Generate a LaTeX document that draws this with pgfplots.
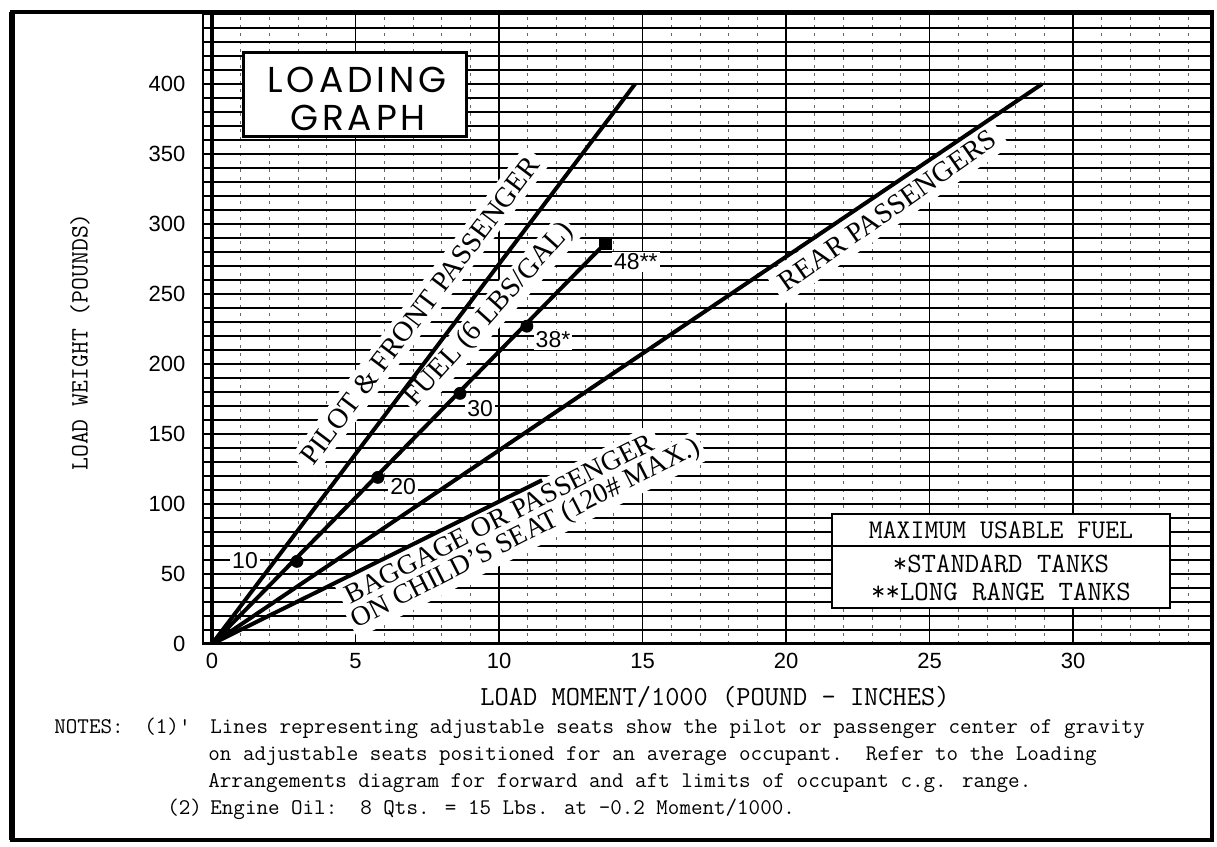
\documentclass[border=0pt]{standalone}
\usepackage{pgfplots}
\pgfplotsset{compat=1.18}
\usepackage{fontspec}
\setmainfont{Liberation Serif}
\newfontfamily\tickfont{Liberation Sans}
\newfontfamily\titlefont[LetterSpace=11]{Poppins}
\begin{document}
\begin{tikzpicture}
\useasboundingbox (0,0) rectangle (608.5pt,423.5pt);
\begin{axis}[
  at={(101.5pt,101.5pt)}, anchor=south west,
  scale only axis, width=504.5pt, height=315.5pt,
  xmin=-0.314, xmax=34.84, ymin=0, ymax=450.7,
  xtick={0,5,...,30}, ytick={0,50,...,400},
  minor xtick={0,1,...,34}, minor ytick={10,20,...,450},
  grid=both,
  major grid style={black, line width=0.8pt},
  minor grid style={black, line width=0.65pt},
  minor x grid style={black!60, line width=0.4pt, dash pattern=on 1.5pt off 2.5pt},
  major tick length=0pt, minor tick length=0pt,
  axis line style={black, line width=0.8pt},
  ticklabel style={font=\tickfont\fontsize{11}{13}\selectfont},
  /pgf/number format/assume math mode=true,
  xticklabel style={yshift=-1pt},
  yticklabel style={xshift=-5.3pt},
]
% labels along the lines
\node[anchor=base west, rotate=53, fill=white, inner sep=3pt, font=\fontsize{14.2}{15}\selectfont] at (axis cs:3.41,122.9) {PILOT \& FRONT PASSENGER};
\node[anchor=base west, rotate=48, fill=white, inner sep=1.5pt, font=\fontsize{14.2}{15}\selectfont] at (axis cs:7.00,167.1) {FUEL (6 LBS/GAL)};
\node[anchor=base west, rotate=35, fill=white, inner sep=4pt, font=\fontsize{14.2}{15}\selectfont] at (axis cs:19.79,247.9) {REAR PASSENGERS};
\node[anchor=base west, rotate=27, fill=white, inner sep=3pt, font=\fontsize{13.8}{15}\selectfont] at (axis cs:4.63,26.4) {BAGGAGE OR PASSENGER};
\node[anchor=base west, rotate=27, fill=white, inner sep=1.8pt, font=\fontsize{13.8}{15}\selectfont] at (axis cs:4.91,10.0) {ON CHILD'S SEAT (120\# MAX.)};
% fuel point labels
\node[fill=white, inner sep=1pt, font=\tickfont\fontsize{11.5}{13}\selectfont] at (axis cs:1.15,59.3) {10};
\node[fill=white, inner sep=1pt, font=\tickfont\fontsize{11.5}{13}\selectfont] at (axis cs:6.66,112.1) {20};
\node[fill=white, inner sep=1pt, font=\tickfont\fontsize{11.5}{13}\selectfont] at (axis cs:9.34,167.9) {30};
\node[fill=white, inner sep=1pt, font=\tickfont\fontsize{11.5}{13}\selectfont] at (axis cs:11.88,217.1) {38*};
\node[fill=white, inner sep=1pt, font=\tickfont\fontsize{11.5}{13}\selectfont] at (axis cs:14.77,272.9) {48**};
% axis lines at zero
\draw[black, line width=2.2pt] (axis cs:0,0) -- (axis cs:0,450.7);
\draw[black, line width=2.2pt] (axis cs:-0.314,0) -- (axis cs:34.84,0);
% loading lines
\addplot[black, line width=2pt] coordinates {(0,0) (14.74,400)};
\addplot[black, line width=2pt] coordinates {(0,0) (13.69,286)};
\addplot[black, line width=2pt] coordinates {(0,0) (28.92,400)};
\addplot[black, line width=2pt] coordinates {(0,0) (11.5,117)};
\addplot[only marks, mark=*, mark size=3pt, black] coordinates {(2.96,59) (5.78,119) (8.64,179) (10.97,227)};
\addplot[only marks, mark=square*, mark size=3pt, black] coordinates {(13.69,286)};
\end{axis}
% outer frame
\draw[line width=1.8pt] (6pt,3.5pt) rectangle (606pt,417.5pt);
\draw[line width=3pt] (6pt,3.5pt) -- (6pt,417.5pt);
% title box
\draw[line width=1.5pt, fill=white] (121.5pt,355pt) rectangle (233pt,397pt);
\node[font=\titlefont\fontsize{18}{18}\selectfont] at (178.5pt,383.5pt) {LOADING};
\node[font=\titlefont\fontsize{18}{18}\selectfont] at (179pt,364.5pt) {GRAPH};
% legend box
\draw[line width=1.2pt, fill=white] (416pt,119.5pt) rectangle (585pt,166.5pt);
\draw[line width=1pt] (416pt,150.5pt) -- (585pt,150.5pt);
\node[font=\ttfamily\fontsize{13.5}{14}\selectfont] at (500.5pt,158.5pt) {MAXIMUM USABLE FUEL};
\node[font=\ttfamily\fontsize{14}{14}\selectfont] at (500.5pt,141.5pt) {*STANDARD TANKS};
\node[font=\ttfamily\fontsize{14}{14}\selectfont] at (500.5pt,127.5pt) {**LONG RANGE TANKS};
% axis labels
\node[rotate=90, font=\ttfamily\fontsize{12.5}{13}\selectfont] at (40pt,252.5pt) {LOAD WEIGHT (POUNDS)};
\node[font=\ttfamily\fontsize{13.8}{14}\selectfont] at (357.5pt,75pt) {LOAD MOMENT/1000 (POUND - INCHES)};
% notes
\begin{scope}[every node/.style={anchor=base west, inner sep=0pt, font=\ttfamily\fontsize{11.2}{13}\selectfont}]
\node at (27pt,56.7pt) {NOTES:};
\node at (72pt,56.7pt) {(1)'};
\node at (105pt,56.7pt) {Lines representing adjustable seats show the pilot or passenger center of gravity};
\node at (104pt,43.2pt) {on adjustable seats positioned for an average occupant.\ \ Refer to the Loading};
\node at (104pt,29.7pt) {Arrangements diagram for forward and aft limits of occupant c.g. range.};
\node at (83.5pt,16.2pt) {(2)};
\node at (105pt,16.2pt) {Engine Oil:\ \ 8 Qts. = 15 Lbs. at -0.2 Moment/1000.};
\end{scope}
\end{tikzpicture}
\end{document}
